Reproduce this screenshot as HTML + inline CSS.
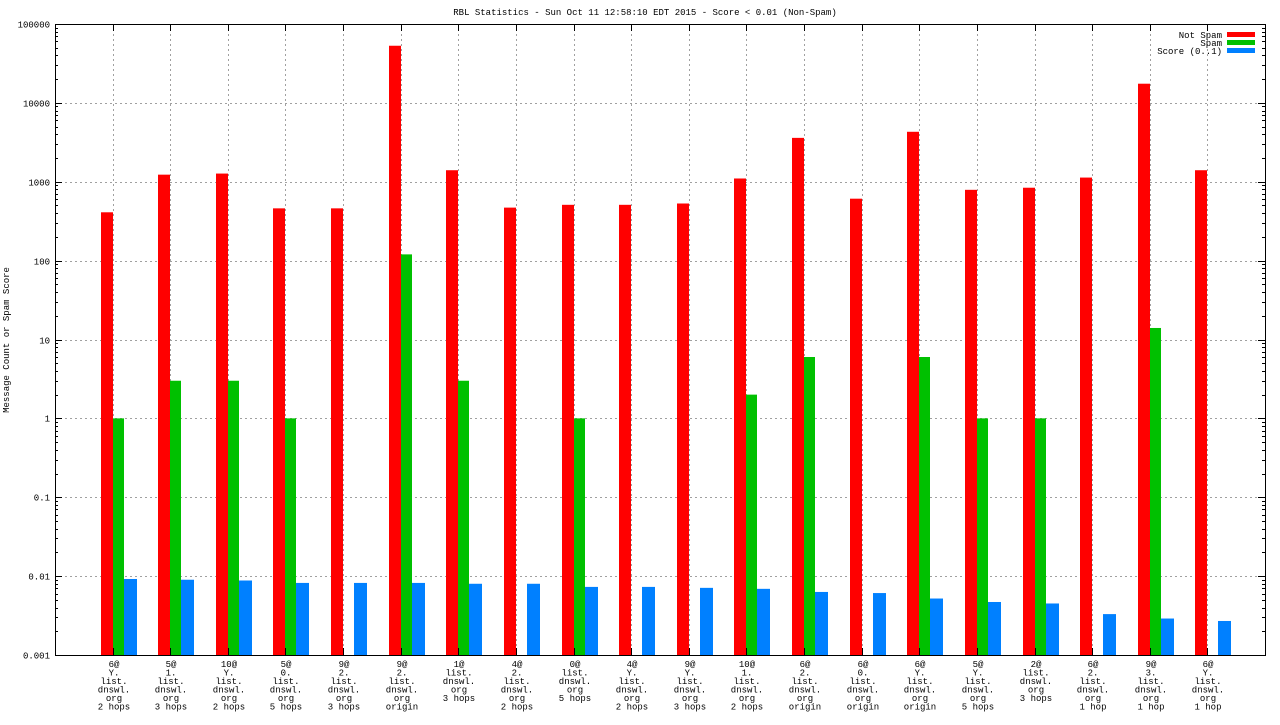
<!DOCTYPE html>
<html><head><meta charset="utf-8"><style>
body{margin:0;background:#fff;}
svg text{font-family:"Liberation Mono",monospace;font-size:9px;fill:#000;}
</style></head><body>
<svg id="chart" width="1280" height="720" xmlns="http://www.w3.org/2000/svg">
<text x="645" y="15" text-anchor="middle">RBL Statistics - Sun Oct 11 12:58:10 EDT 2015 - Score &lt; 0.01 (Non-Spam)</text>
<text transform="translate(9,340) rotate(-90)" text-anchor="middle">Message Count or Spam Score</text>
<g id="grid"></g><g id="bars"></g><g id="axes"></g><g id="labels"></g>
<g>
<text x="1222" y="38" text-anchor="end">Not Spam</text><rect x="1227" y="32" width="28" height="5" fill="#ff0000"/>
<text x="1222" y="46" text-anchor="end">Spam</text><rect x="1227" y="40" width="28" height="5" fill="#00c000"/>
<text x="1222" y="54" text-anchor="end">Score (0..1)</text><rect x="1227" y="48" width="28" height="5" fill="#0080ff"/>
</g>
</svg>
<script>
const categories=[["6@","Y.","list.","dnswl.","org","2 hops"],["5@","1.","list.","dnswl.","org","3 hops"],["10@","Y.","list.","dnswl.","org","2 hops"],["5@","0.","list.","dnswl.","org","5 hops"],["9@","2.","list.","dnswl.","org","3 hops"],["9@","2.","list.","dnswl.","org","origin"],["1@","list.","dnswl.","org","3 hops"],["4@","2.","list.","dnswl.","org","2 hops"],["0@","list.","dnswl.","org","5 hops"],["4@","Y.","list.","dnswl.","org","2 hops"],["9@","Y.","list.","dnswl.","org","3 hops"],["10@","1.","list.","dnswl.","org","2 hops"],["6@","2.","list.","dnswl.","org","origin"],["6@","0.","list.","dnswl.","org","origin"],["6@","Y.","list.","dnswl.","org","origin"],["5@","Y.","list.","dnswl.","org","5 hops"],["2@","list.","dnswl.","org","3 hops"],["6@","2.","list.","dnswl.","org","1 hop"],["9@","3.","list.","dnswl.","org","1 hop"],["6@","Y.","list.","dnswl.","org","1 hop"]];
const notSpam=[410,1230,1270,460,460,53000,1400,470,510,510,530,1100,3600,610,4300,790,840,1130,17500,1400];
const spam=[1,3,3,1,null,120,3,null,1,null,null,2,6,null,6,1,1,null,14,null];
const score=[0.0092,0.009,0.0088,0.0082,0.0082,0.0082,0.008,0.008,0.0073,0.0073,0.0071,0.0069,0.0063,0.0061,0.0052,0.0047,0.0045,0.0033,0.0029,0.0027];
const yTicks=["0.001","0.01","0.1","1","10","100","1000","10000","100000"];
const NS="http://www.w3.org/2000/svg";
const L=55,R=1265,T=24,B=655;
const step=(R-L)/(categories.length+1);
const xc=i=>L+step*(i+1);
const y=v=>B-(Math.log10(v)+3)*(B-T)/8;
function mk(tag,attrs,parent){const e=document.createElementNS(NS,tag);for(const k in attrs)e.setAttribute(k,attrs[k]);document.getElementById(parent).appendChild(e);return e;}
const dash={stroke:"#a0a0a0","stroke-width":1,"stroke-dasharray":"2,3"};
yTicks.forEach(t=>{const v=parseFloat(t),yy=Math.round(y(v))+0.5;
 if(v>0.001&&v<100000){const g=mk("line",Object.assign({x1:L,x2:R,y1:yy,y2:yy},dash),"grid");}
 const tx=mk("text",{x:50,y:yy+3,"text-anchor":"end"},"labels");tx.textContent=t;
 
 mk("line",{x1:L,x2:L+7,y1:yy,y2:yy,stroke:"#000"},"axes");mk("line",{x1:R-7,x2:R,y1:yy,y2:yy,stroke:"#000"},"axes");
 if(v<100000)for(let m=2;m<10;m++){const ym=Math.round(y(v*m))+0.5;mk("line",{x1:L,x2:L+3,y1:ym,y2:ym,stroke:"#000"},"axes");mk("line",{x1:R-3,x2:R,y1:ym,y2:ym,stroke:"#000"},"axes");}
});
categories.forEach((c,i)=>{const x=Math.round(xc(i))+0.5;
 const g=mk("line",Object.assign({x1:x,x2:x,y1:T,y2:B},dash),"grid");
 
 mk("line",{x1:x,x2:x,y1:T,y2:T+7,stroke:"#000"},"axes");mk("line",{x1:x,x2:x,y1:B-7,y2:B,stroke:"#000"},"axes");
 const cx=Math.round(xc(i));
 const series=[[notSpam[i],cx-12,12,"#ff0000","bar-not-spam"],[spam[i],cx,11,"#00c000","bar-spam"],[score[i],cx+11,13,"#0080ff","bar-score"]];
 series.forEach(s=>{if(s[0]==null)return;const yt=y(s[0]);
  const r=mk("rect",{x:s[1],y:yt,width:s[2],height:B-yt,fill:s[3]},"bars");
  });
 const t=mk("text",{x:cx+1,y:667,"text-anchor":"middle"},"labels");
 
 c.forEach((ln,k)=>{const ts=document.createElementNS(NS,"tspan");ts.setAttribute("x",cx+1);ts.setAttribute("dy",k?8.5:0);ts.textContent=ln;t.appendChild(ts);});
});
const fr=mk("rect",{x:L+0.5,y:T+0.5,width:R-L,height:B-T,fill:"none",stroke:"#000","stroke-width":1},"axes");

</script>
</body></html>
